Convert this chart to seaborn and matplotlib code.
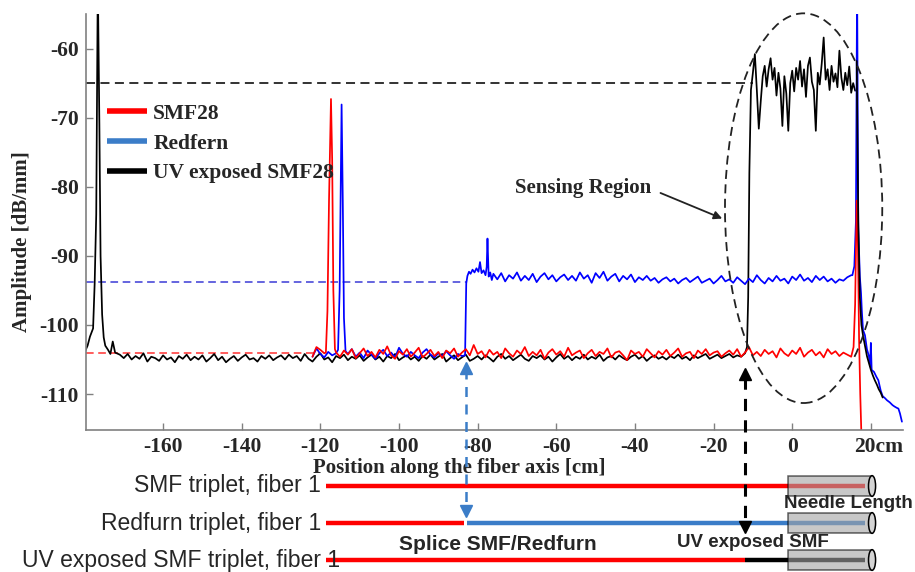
"""OFDR amplitude trace along the fiber axis for three fiber triplets,
with a schematic of the fibers below the plot.
"""
import matplotlib
matplotlib.use('Agg')
import matplotlib.pyplot as plt
from matplotlib.lines import Line2D
from matplotlib.patches import Ellipse, Rectangle
from matplotlib.transforms import ScaledTranslation
import numpy as np
import pandas as pd
import seaborn as sns

# ---------------------------------------------------------------- data
# SMF28 (red)
red_base1 = [-104.6, -103.2, -103.6, -104.1]                      # -122..-119
red_peak_pos = [-118.6, -118.2, -117.8, -117.3, -117.0, -116.7, -116.3]
red_peak_amp = [-104.0, -98.0, -82.0, -67.3, -76.0, -95.0, -103.5]
red_base2 = [                                                     # -116..15
    -104.0, -104.6, -103.7, -104.3, -103.5, -104.8, -104.1, -103.4, -104.5, -103.9,
    -104.7, -103.6, -104.2, -103.1, -104.4, -104.9, -103.8, -104.3, -103.5, -104.6,
    -104.0, -103.3, -104.7, -104.2, -103.6, -104.5, -103.9, -104.8, -103.7, -104.1,
    -103.4, -104.6, -104.0, -103.5, -104.4, -102.9, -104.2, -103.8, -104.7, -103.6,
    -104.3, -103.9, -104.8, -103.4, -104.1, -104.6, -103.7, -104.2, -103.2, -104.5,
    -103.9, -104.4, -103.6, -104.9, -104.0, -103.5, -104.3, -103.8, -104.6, -103.3,
    -104.4, -104.0, -103.7, -104.8, -104.1, -103.6, -104.5, -103.9, -104.2, -103.4,
    -104.7, -104.0, -103.8, -104.4, -105.1, -103.7, -104.2, -103.9, -104.6, -103.5,
    -104.1, -104.7, -103.8, -104.3, -103.6, -104.5, -104.0, -103.4, -104.6, -104.1,
    -103.9, -104.8, -103.7, -104.2, -103.5, -104.4, -104.0, -103.8, -104.6, -104.1,
    -103.7, -104.3, -103.5, -104.6, -104.0, -103.2, -104.4, -103.9, -104.5, -103.6,
    -104.2, -103.8, -104.7, -103.4, -104.1, -104.5, -103.7, -104.2, -103.3, -104.6,
    -104.0, -103.6, -104.4, -103.9, -104.7, -103.5, -104.2, -103.8, -104.5, -104.0,
    -104.3, -104.6]
red_end_pos = [15.6, 16.0, 16.4, 16.7, 17.0, 17.3, 17.6]
red_end_amp = [-103.2, -97.0, -82.0, -88.0, -102.0, -110.0, -116.0]

# Redfern (blue)
blue_base1 = [-104.6, -103.4, -104.2, -104.7, -103.9, -104.4, -104.1]  # -122..-116
blue_peak_pos = [-115.5, -115.1, -114.6, -114.3, -114.0, -113.6]
blue_peak_amp = [-103.6, -95.0, -68.1, -82.0, -99.0, -103.8]
blue_base2 = [                                                    # -113..-84
    -104.2, -103.5, -104.6, -104.0, -104.8, -103.7, -104.3, -104.9, -104.1, -103.6,
    -104.5, -104.0, -104.7, -103.3, -104.2, -104.6, -103.9, -104.4, -104.8, -104.0,
    -103.5, -104.3, -104.7, -104.1, -104.5, -103.8, -104.4, -104.9, -104.2, -104.5]
blue_step_pos = [-83.2, -82.9, -82.6, -82.2, -81.8, -81.3, -80.8, -80.3, -79.8,
                 -79.4, -79.0, -78.5, -78.0, -77.7, -77.5, -77.2, -76.8, -76.4]
blue_step_amp = [-104.4, -94.0, -92.9, -92.3, -92.6, -92.0, -92.4, -91.8, -92.3,
                 -90.9, -92.5, -92.1, -92.8, -91.6, -87.5, -93.0, -92.4, -93.5]
blue_base3 = [                                                    # -76..15
    -92.6, -93.4, -92.5, -93.7, -92.8, -93.3, -92.4, -93.6, -92.9, -93.5,
    -92.6, -93.8, -93.0, -92.5, -93.4, -92.8, -93.7, -93.1, -92.7, -93.5,
    -92.9, -93.6, -92.4, -93.3, -92.8, -93.9, -92.5, -93.2, -92.3, -93.6,
    -93.0, -92.6, -93.7, -92.9, -93.4, -92.7, -93.8, -93.1, -93.5, -92.9,
    -93.6, -93.2, -93.9, -93.4, -93.1, -93.7, -93.3, -94.0, -93.5, -93.2,
    -93.8, -93.4, -93.0, -93.9, -93.6, -93.3, -94.0, -93.5, -92.9, -93.7,
    -93.4, -93.9, -93.1, -93.6, -94.1, -93.3, -93.8, -92.8, -93.5, -94.0,
    -93.2, -93.7, -92.9, -93.6, -93.3, -94.0, -93.0, -93.5, -92.7, -93.6,
    -93.2, -93.8, -92.9, -93.5, -93.0, -93.7, -93.3, -93.9, -93.4, -93.6,
    -93.1, -92.8]
blue_end_pos = [15.3, 15.8, 16.2, 16.5, 16.8, 17.2, 17.5, 17.7, 18.0, 18.5,
                19.0, 19.5, 19.8, 20.0, 20.2, 20.8, 21.4, 21.9, 22.5, 23.0,
                23.6, 24.1, 24.8, 25.5, 26.0, 26.6, 27.0, 27.4, 27.9]
blue_end_amp = [-92.8, -91.5, -85.0, -50.0, -85.9, -93.0, -95.4, -97.9, -100.7, -101.5,
                -103.5, -104.5, -106.0, -102.6, -106.5, -106.8, -107.5, -108.0, -109.5, -110.3,
                -110.6, -110.9, -111.2, -111.6, -111.8, -112.0, -112.1, -112.8, -114.0]

# UV exposed SMF28 (black)
black_lead_pos = [-179.9, -179.2, -178.6, -177.8, -177.4, -177.0, -176.6, -176.2,
                  -175.9, -175.5, -175.1, -174.7, -174.0, -173.4, -172.8, -172.2]
black_lead_amp = [-103.9, -103.0, -101.7, -100.5, -94.0, -84.0, -50.0, -71.0,
                  -90.0, -98.5, -101.8, -103.0, -103.6, -104.2, -102.4, -104.0]
black_base = [                                                    # -171..-12
    -104.3, -104.8, -104.2, -105.0, -104.5, -104.9, -104.1, -105.3, -104.6, -104.8,
    -105.2, -104.4, -105.0, -104.7, -105.4, -104.5, -104.9, -104.3, -105.1, -104.6,
    -105.0, -104.4, -105.3, -104.8, -104.2, -105.1, -104.6, -105.4, -104.9, -104.5,
    -105.2, -104.7, -104.3, -105.0, -104.8, -105.3, -104.5, -104.9, -104.4, -105.1,
    -104.7, -104.4, -105.0, -104.3, -104.8, -104.5, -105.2, -104.2, -104.9, -105.3,
    -104.6, -104.1, -105.0, -104.7, -105.4, -104.5, -104.8, -104.3, -105.1, -104.6,
    -104.9, -104.4, -105.2, -104.7, -104.3, -105.0, -104.6, -105.3, -104.5, -104.8,
    -104.2, -105.1, -104.7, -104.4, -105.0, -104.6, -105.2, -104.5, -104.9, -104.3,
    -105.0, -104.6, -104.2, -105.3, -104.8, -104.4, -105.1, -104.7, -104.3, -105.2,
    -104.9, -104.5, -105.0, -104.4, -104.8, -105.3, -104.6, -104.2, -104.9, -104.5,
    -105.1, -104.7, -104.3, -104.9, -105.2, -104.5, -104.8, -104.4, -105.0, -104.6,
    -105.3, -104.7, -104.2, -104.9, -104.5, -105.1, -104.6, -104.9, -104.3, -105.0,
    -104.6, -104.9, -104.3, -105.2, -104.7, -104.5, -105.0, -104.4, -104.8, -105.1,
    -104.6, -104.3, -104.9, -104.5, -105.2, -104.7, -104.4, -104.9, -104.6, -105.0,
    -104.5, -104.8, -104.3, -104.9, -104.6, -105.1, -104.4, -104.8, -104.5, -104.2,
    -104.9, -104.6, -104.3, -104.8, -104.5, -104.2, -104.7, -104.4, -104.6, -104.1]
black_rise_pos = [-11.5, -11.2, -10.9, -10.5]
black_rise_amp = [-103.2, -96.0, -78.0, -66.0]
black_plateau = [                                                 # -10..16 step 0.5
    -63.5, -60.8, -66.0, -71.6, -67.6, -64.0, -62.5, -65.5, -63.0, -61.4,
    -64.5, -62.8, -66.8, -63.5, -65.8, -71.2, -64.0, -66.5, -71.9, -65.0,
    -63.2, -66.2, -62.8, -64.5, -61.8, -65.5, -63.0, -67.0, -62.5, -61.3,
    -64.8, -66.0, -71.9, -63.5, -65.2, -62.2, -58.4, -64.5, -63.0, -66.0,
    -62.5, -64.8, -63.6, -65.6, -60.3, -64.2, -66.0, -63.5, -65.3, -62.6,
    -66.4, -65.0, -66.1]
black_tail_pos = [16.4, 16.8, 17.2, 17.6, 18.0, 18.5, 19.0, 19.5, 20.0, 20.5,
                  21.0, 21.5, 22.0, 22.5, 23.0]
black_tail_amp = [-61.8, -85.0, -96.0, -100.0, -101.5, -103.0, -104.5, -105.5, -106.5, -107.3,
                  -108.0, -108.6, -109.3, -109.8, -110.5]

# reference levels (dashed) and where each one stops
ref_levels = {'uv': (-65.0, -10.0), 'redfern': (-93.8, -83.0), 'smf': (-104.0, -120.0)}

xticks = [-160, -140, -120, -100, -80, -60, -40, -20, 0, 20]
xtick_labels = ['-160', '-140', '-120', '-100', '-80', '-60', '-40', '-20', '0', '20cm']
yticks = [-110, -100, -90, -80, -70, -60]
ytick_labels = ['-110', '-100', '-90', '-80', '-70', '-60']

legend_labels = ['SMF28', 'Redfern', 'UV exposed SMF28']

# schematic of the triplets below the plot
fiber_start = -118.6
splice_pos = -83.0
uv_start = -12.0
needle_span = (-1.0, 20.3)
fiber_end = 18.6
row_labels = ['SMF triplet, fiber 1', 'Redfurn triplet, fiber 1',
              'UV exposed SMF triplet, fiber 1']

RED = '#ff0000'
BLUE = '#0000ff'
STEEL = '#3b7dc8'
GRAY = '#808080'


def build(parts):
    """Concatenate (positions, amplitudes) pieces into one DataFrame."""
    xs = np.concatenate([np.asarray(p, float) for p, _ in parts])
    ys = np.concatenate([np.asarray(a, float) for _, a in parts])
    return pd.DataFrame({'pos': xs, 'amp': ys})


red = build([(np.arange(-122, -118), red_base1),
             (red_peak_pos, red_peak_amp),
             (np.arange(-116, 16), red_base2),
             (red_end_pos, red_end_amp)])
blue = build([(np.arange(-122, -115), blue_base1),
              (blue_peak_pos, blue_peak_amp),
              (np.arange(-113, -83), blue_base2),
              (blue_step_pos, blue_step_amp),
              (np.arange(-76, 16), blue_base3),
              (blue_end_pos, blue_end_amp)])
black = build([(black_lead_pos, black_lead_amp),
               (np.arange(-171, -11), black_base),
               (black_rise_pos, black_rise_amp),
               (np.arange(-10, 16.5, 0.5), black_plateau)])
black_tail = build([(black_tail_pos, black_tail_amp)])

# ---------------------------------------------------------------- plot
sns.set_style('white')
plt.rcParams['font.family'] = ['Liberation Serif', 'DejaVu Serif']

fig = plt.figure(figsize=(9.15, 5.72), dpi=100)
ax = fig.add_axes([0.094, 0.2483, 0.893, 0.7272])
xlim = (-179.6, 28.2)
ylim = (-115.2, -55.0)

for df, col in [(black, 'black'), (blue, BLUE), (red, RED), (black_tail, 'black')]:
    sns.lineplot(data=df, x='pos', y='amp', color=col, lw=1.25, ax=ax,
                 estimator=None, errorbar=None, sort=False, legend=False)

# dashed reference levels
lvl, stop = ref_levels['uv']
ax.plot([xlim[0], stop], [lvl, lvl], color='#222222', lw=1.3, dashes=(5, 3), zorder=1)
lvl, stop = ref_levels['redfern']
ax.plot([xlim[0], stop], [lvl, lvl], color='#3a3ad6', lw=1.1, dashes=(5, 3), zorder=1)
lvl, stop = ref_levels['smf']
ax.plot([xlim[0], stop], [lvl, lvl], color='#ff3030', lw=1.1, dashes=(5, 3), zorder=1)

# sensing region ellipse
ax.add_patch(Ellipse((2.9, -83.1), 40, 56.4, fill=False, ec='#222222',
                     lw=1.3, ls=(0, (5, 3)), clip_on=False, zorder=5))
ax.annotate('', xy=(-17.8, -84.6), xytext=(-33.5, -80.9),
            arrowprops=dict(arrowstyle='-|>', color='#222222', lw=1.3,
                            mutation_scale=12, shrinkA=0, shrinkB=0))
ax.text(-70.5, -80.2, 'Sensing Region', ha='left', va='center',
        fontsize=15, weight='bold')

ax.set_xlim(*xlim)
ax.set_ylim(*ylim)
ax.set_xticks(xticks)
ax.set_xticklabels(xtick_labels)
ax.set_yticks(yticks)
ax.set_yticklabels(ytick_labels)
ax.tick_params(bottom=True, left=True, direction='in', length=5, width=1,
               color=GRAY, pad=5, labelsize=15.5)
for lab in ax.get_xticklabels() + ax.get_yticklabels():
    lab.set_fontweight('bold')
# "20cm": keep the number centred on its tick, the unit hangs to the right
last = ax.get_xticklabels()[-1]
last.set_ha('left')
last.set_transform(last.get_transform()
                   + ScaledTranslation(-0.165, 0, fig.dpi_scale_trans))
for s in ['left', 'bottom']:
    ax.spines[s].set_color(GRAY)
    ax.spines[s].set_linewidth(1.2)
for s in ['top', 'right']:
    ax.spines[s].set_visible(False)

ax.set_xlabel('Position along the fiber axis [cm]', fontsize=15, weight='bold')
ax.xaxis.set_label_coords(0.457, -0.067)
ax.set_ylabel('Amplitude [dB/mm]', fontsize=15, weight='bold')
ax.yaxis.set_label_coords(-0.066, 0.452)

handles = [Line2D([], [], color=c, lw=4, solid_capstyle='butt')
           for c in (RED, STEEL, 'black')]
ax.legend(handles, legend_labels, loc='upper left', bbox_to_anchor=(0.0257, 0.784),
          frameon=False, borderaxespad=0, borderpad=0, handlelength=1.85,
          handletextpad=0.3, labelspacing=0.45,
          prop=dict(family='Liberation Serif', weight='bold', size=15.5))

# ---------------------------------------------------------------- schematic
sk = fig.add_axes([0.094, 0.0, 0.893, 0.2483])
sk.set_xlim(*xlim)
sk.set_ylim(2.324, -1.514)
sk.axis('off')

lw_fiber = 3.2
sk.plot([fiber_start, fiber_end], [0, 0], color=RED, lw=lw_fiber, solid_capstyle='butt')
sk.plot([fiber_start, splice_pos - 0.4], [1, 1], color=RED, lw=lw_fiber, solid_capstyle='butt')
sk.plot([splice_pos + 0.4, fiber_end], [1, 1], color=STEEL, lw=lw_fiber, solid_capstyle='butt')
sk.plot([fiber_start, uv_start], [2, 2], color=RED, lw=lw_fiber, solid_capstyle='butt')
sk.plot([uv_start, fiber_end], [2, 2], color='black', lw=lw_fiber, solid_capstyle='butt')

for row in range(3):
    x0, x1 = needle_span
    sk.add_patch(Rectangle((x0, row - 0.28), x1 - x0, 0.56, fc='#a4a4a4', alpha=0.6,
                           ec='black', lw=1.1, clip_on=False, zorder=3))
    sk.add_patch(Ellipse((x1, row), 1.8, 0.56, fc='#d4d4d4', ec='black', lw=1.1,
                         clip_on=False, zorder=4))

sans = ['Liberation Sans', 'DejaVu Sans']
sk.text(fiber_start - 1.2, 0, row_labels[0], ha='right', va='center', fontsize=16.5,
        family=sans)
sk.text(fiber_start - 1.2, 1, row_labels[1], ha='right', va='center', fontsize=16.5,
        family=sans)
sk.text(-115.0, 2, row_labels[2], ha='right', va='center', fontsize=16.5, family=sans)

sk.text(14.2, 0.46, 'Needle Length', ha='center', va='center', fontsize=13.5,
        weight='bold', family=sans, zorder=6)
sk.text(-74.8, 1.59, 'Splice SMF/Redfurn', ha='center', va='center', fontsize=15,
        weight='bold', family=sans, zorder=6)
sk.text(-9.9, 1.54, 'UV exposed SMF', ha='center', va='center', fontsize=13.5,
        weight='bold', family=sans, zorder=6)

# dashed double arrows linking the schematic to the trace
sk.plot([splice_pos, splice_pos], [-3.15, 0.62], color=STEEL, lw=1.8,
        dashes=(4, 3), clip_on=False, zorder=7)
sk.plot([splice_pos], [-3.2], marker='^', ms=8, color=STEEL, clip_on=False, zorder=7)
sk.plot([splice_pos], [0.68], marker='v', ms=8, color=STEEL, clip_on=False, zorder=7)
sk.plot([uv_start, uv_start], [-2.95, 1.05], color='black', lw=2.2,
        dashes=(4, 3), clip_on=False, zorder=7)
sk.plot([uv_start], [-3.02], marker='^', ms=8, color='black', clip_on=False, zorder=7)
sk.plot([uv_start], [1.1], marker='v', ms=8, color='black', clip_on=False, zorder=7)

plt.savefig('out.png', dpi=100)
plt.close()
